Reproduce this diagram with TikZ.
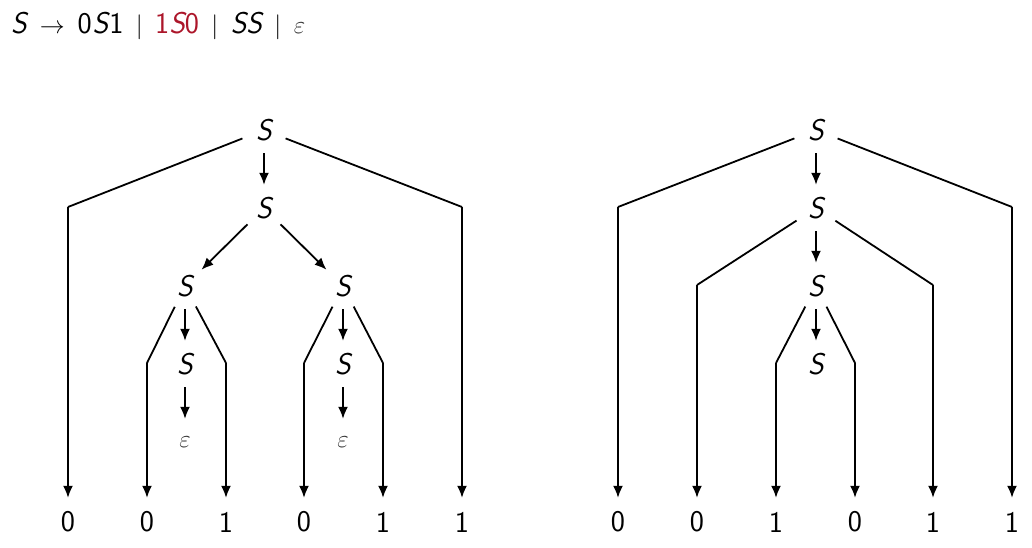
\documentclass[tikz,border=0pt]{standalone}
\usetikzlibrary{arrows.meta}
\definecolor{dred}{RGB}{172,22,42}
\newcommand\Sv{{\sffamily\slshape S}}
\newcommand\Bar{\hspace{5.5pt}${}\mid{}$\hspace{5.5pt}}
\begin{document}
\begin{tikzpicture}[x=1pt,y=-1pt,
  every node/.style={font=\fontsize{30}{36}\selectfont\sffamily},
  nt/.style={circle,minimum size=46pt,inner sep=0pt},
  leaf/.style={circle,minimum size=48pt,inner sep=0pt},
  edge/.style={line width=1.8pt,-{Latex[length=12pt,width=10pt]}},
  seg/.style={line width=1.8pt,line join=miter}]
\useasboundingbox (0,0) rectangle (1032,548);
% title
\node[anchor=base west,inner sep=0pt] (title) at (11,34)
  {\Sv\hspace{6pt}${}\rightarrow{}$\hspace{6pt}0\hspace{1pt}\Sv\hspace{1pt}1\Bar\textcolor{dred}{1\Sv0}\Bar\Sv\Sv\Bar\textcolor{black!80}{$\varepsilon$}};
% ---------- left tree ----------
\node[nt] (r1) at (264,130) {\Sv};
\node[nt] (a1) at (264,208) {\Sv};
\node[nt] (b1) at (185,286) {\Sv};
\node[nt] (c1) at (343,286) {\Sv};
\node[nt] (b2) at (185,364) {\Sv};
\node[nt] (c2) at (343,364) {\Sv};
\node[nt] (b3) at (185,442) {\textcolor{black!80}{$\varepsilon$}};
\node[nt] (c3) at (343,442) {\textcolor{black!80}{$\varepsilon$}};
\foreach \n/\x/\t in {l1/68/0,l2/147/0,l3/226/1,l4/304/0,l5/383/1,l6/462/1}
  \node[leaf] (\n) at (\x,522) {\t};
\coordinate (k1) at (68,207);
\coordinate (k6) at (462,207);
\coordinate (k2) at (147,363);
\coordinate (k3) at (226,363);
\coordinate (k4) at (304,363);
\coordinate (k5) at (383,363);
\draw[seg] (r1) -- (k1); \draw[edge] (k1) -- (l1);
\draw[seg] (r1) -- (k6); \draw[edge] (k6) -- (l6);
\draw[edge] (r1) -- (a1);
\draw[edge] (a1) -- (b1);
\draw[edge] (a1) -- (c1);
\draw[seg] (b1) -- (k2); \draw[edge] (k2) -- (l2);
\draw[seg] (b1) -- (k3); \draw[edge] (k3) -- (l3);
\draw[seg] (c1) -- (k4); \draw[edge] (k4) -- (l4);
\draw[seg] (c1) -- (k5); \draw[edge] (k5) -- (l5);
\draw[edge] (b1) -- (b2);
\draw[edge] (c1) -- (c2);
\draw[edge] (b2) -- (b3);
\draw[edge] (c2) -- (c3);
% ---------- right tree ----------
\node[nt] (R1) at (816,130) {\Sv};
\node[nt] (R2) at (816,208) {\Sv};
\node[nt] (R3) at (816,286) {\Sv};
\node[nt] (R4) at (816,364) {\Sv};
\foreach \n/\x/\t in {m1/618/0,m2/697/0,m3/776/1,m4/855/0,m5/933/1,m6/1012/1}
  \node[leaf] (\n) at (\x,522) {\t};
\coordinate (q1) at (618,207);
\coordinate (q6) at (1012,207);
\coordinate (q2) at (697,285);
\coordinate (q5) at (933,285);
\coordinate (q3) at (776,363);
\coordinate (q4) at (855,363);
\draw[seg] (R1) -- (q1); \draw[edge] (q1) -- (m1);
\draw[seg] (R1) -- (q6); \draw[edge] (q6) -- (m6);
\draw[seg] (R2) -- (q2); \draw[edge] (q2) -- (m2);
\draw[seg] (R2) -- (q5); \draw[edge] (q5) -- (m5);
\draw[seg] (R3) -- (q3); \draw[edge] (q3) -- (m3);
\draw[seg] (R3) -- (q4); \draw[edge] (q4) -- (m4);
\draw[edge] (R1) -- (R2);
\draw[edge] (R2) -- (R3);
\draw[edge] (R3) -- (R4);
\end{tikzpicture}
\end{document}
